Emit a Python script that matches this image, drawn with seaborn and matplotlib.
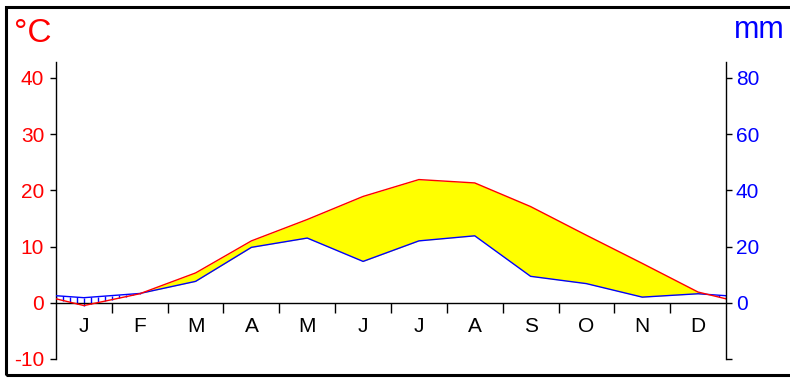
import numpy as np
import pandas as pd
import matplotlib
matplotlib.use("Agg")
import matplotlib.pyplot as plt
import seaborn as sns
from matplotlib.patches import Rectangle

# Monthly climate normals
months = ['J', 'F', 'M', 'A', 'M', 'J', 'J', 'A', 'S', 'O', 'N', 'D']
temp_c = [-0.5, 1.6, 5.3, 11.0, 14.8, 18.9, 21.9, 21.3, 17.1, 12.0, 7.0, 1.9]
precip_mm = [1.8, 3.3, 7.6, 19.7, 23.0, 14.7, 22.0, 23.8, 9.4, 6.8, 2.0, 3.2]
temp_ticks = [-10, 0, 10, 20, 30, 40]
precip_ticks = [-20, 0, 20, 40, 60, 80]

sns.set_style("white")
plt.rcParams['font.family'] = ['Liberation Sans', 'DejaVu Sans']

RED = '#ff0000'
BLUE = '#0000ff'
YELLOW = '#ffff00'

# Walter-Lieth scaling: 10 degC corresponds to 20 mm
T_TOP = 42.8
T_BOT = -10

fig = plt.figure(figsize=(7.9, 3.79), dpi=100)
ax = fig.add_axes([56 / 790, 1 - 359 / 379, 670 / 790, (359 - 62) / 379])
ax2 = ax.twinx()

# wrap the year around so the curves continue to the plot edges
n = len(months)
x_ext = np.arange(-1, n + 1)
t_ext = np.array([temp_c[-1]] + temp_c + [temp_c[0]])
p_ext = np.array([precip_mm[-1]] + precip_mm + [precip_mm[0]])
df = pd.DataFrame({'month': x_ext, 'temp': t_ext, 'precip': p_ext,
                   'precip_scaled': p_ext / 2})

# arid (yellow) and humid (blue hatch) periods
xf = np.linspace(-0.5, n - 0.5, 2000)
tf = np.interp(xf, x_ext, t_ext)
pf = np.interp(xf, x_ext, p_ext / 2)
ax.fill_between(xf, pf, tf, where=tf > pf, interpolate=True,
                color=YELLOW, lw=0, zorder=1)
xh = np.arange(-0.5, n - 0.5 + 1e-9, 0.125)
th = np.interp(xh, x_ext, t_ext)
ph = np.interp(xh, x_ext, p_ext / 2)
wet = ph > th
ax.vlines(xh[wet], th[wet], ph[wet], color=BLUE, lw=1, zorder=2)

sns.lineplot(data=df, x='month', y='precip_scaled', ax=ax, color=BLUE,
             lw=1, zorder=3)
sns.lineplot(data=df, x='month', y='temp', ax=ax, color=RED,
             lw=1, zorder=4)

ax.set_xlim(-0.5, n - 0.5)
ax.set_ylim(T_BOT, T_TOP)
ax2.set_ylim(T_BOT * 2, T_TOP * 2)
ax.set_xlabel('')
ax.set_ylabel('')

# spines
ax.spines['top'].set_visible(False)
ax2.spines['top'].set_visible(False)
ax2.spines['bottom'].set_visible(False)
ax2.spines['left'].set_visible(False)
ax.spines['right'].set_visible(False)
ax.spines['bottom'].set_position(('data', 0))
for sp in [ax.spines['left'], ax2.spines['right'], ax.spines['bottom']]:
    sp.set_color('black')
    sp.set_linewidth(1)

# temperature axis
ax.set_yticks(temp_ticks)
ax.set_yticklabels([str(v) for v in temp_ticks])
ax.tick_params(axis='y', colors='black', labelcolor=RED, labelsize=15,
               length=4, width=1, direction='out', pad=4.5, left=True)

# precipitation axis
ax2.set_yticks(precip_ticks)
ax2.set_yticklabels(['' if v < 0 else str(v) for v in precip_ticks])
ax2.tick_params(axis='y', colors='black', labelcolor=BLUE, labelsize=15,
                length=4, width=1, direction='out', pad=3, right=True)

# months: ticks at boundaries, labels centred
ax.set_xticks(np.arange(0.5, n - 1, 1.0))
ax.set_xticklabels([])
ax.set_xticks(np.arange(n), minor=True)
ax.set_xticklabels(months, minor=True)
ax.tick_params(axis='x', which='major', length=7.2, width=1,
               direction='out', bottom=True, colors='black')
ax.tick_params(axis='x', which='minor', length=0, pad=10,
               labelsize=15, labelcolor='black', bottom=True)
ax.grid(False)
ax2.grid(False)

fig.text(14 / 790, 1 - 34 / 379, '°C', color=RED, fontsize=24,
         ha='left', va='center')
fig.text(734 / 790, 1 - 30 / 379, 'mm', color=BLUE, fontsize=22,
         ha='left', va='center')

# frame around the figure
fig.patches.append(Rectangle((6 / 790, 1 - 375 / 379), 1.2, (375 - 6.5) / 379,
                             transform=fig.transFigure, fill=False,
                             edgecolor='black', lw=2.2, zorder=10))

fig.savefig('out.png', dpi=100)
